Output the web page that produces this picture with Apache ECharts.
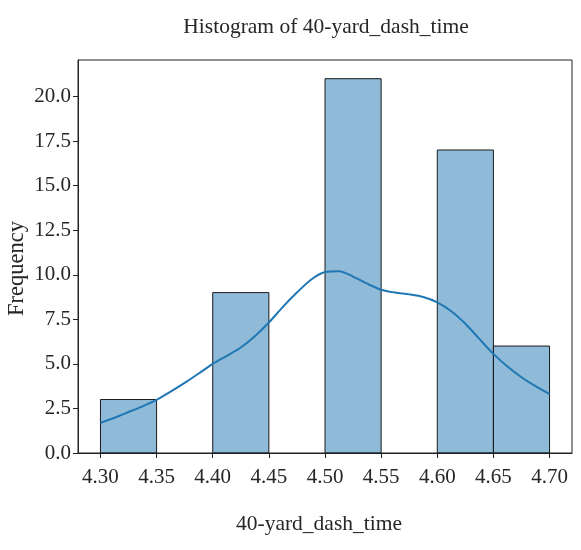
<!DOCTYPE html>
<html>
<head>
<meta charset="utf-8">
<script src="https://cdn.jsdelivr.net/npm/echarts@6/dist/echarts.min.js"></script>
<style>
  html, body { margin: 0; padding: 0; background: #ffffff; }
  #chart { width: 581px; height: 550px; }
</style>
</head>
<body>
<div id="chart"></div>
<script>
// Histogram bins (left edge, right edge) and counts
const binStart = [4.30, 4.35, 4.40, 4.45, 4.50, 4.55, 4.60, 4.65];
const binEnd   = [4.35, 4.40, 4.45, 4.50, 4.55, 4.60, 4.65, 4.70];
const binCount = [3, 0, 9, 0, 21, 0, 17, 6];

// Kernel density estimate, scaled to counts
const kdeX = [4.3000, 4.3125, 4.3250, 4.3375, 4.3500, 4.3625, 4.3750, 4.3875,
              4.4000, 4.4125, 4.4250, 4.4375, 4.4500, 4.4625, 4.4750, 4.4875,
              4.5000, 4.5125, 4.5250, 4.5375, 4.5500, 4.5625, 4.5750, 4.5875,
              4.6000, 4.6125, 4.6250, 4.6375, 4.6500, 4.6625, 4.6750, 4.6875, 4.7000];
const kdeY = [1.70, 1.98, 2.30, 2.62, 2.98, 3.44, 3.93, 4.46,
              5.00, 5.45, 5.92, 6.55, 7.32, 8.20, 9.00, 9.72,
              10.15, 10.20, 9.90, 9.50, 9.16, 9.00, 8.90, 8.75,
              8.45, 7.95, 7.25, 6.40, 5.56, 4.85, 4.25, 3.75, 3.31];

// Tick positions
const xTicks = [4.30, 4.35, 4.40, 4.45, 4.50, 4.55, 4.60, 4.65, 4.70];
const yTicks = [0, 2.5, 5, 7.5, 10, 12.5, 15, 17.5, 20];

const FONT = '"Liberation Serif", "Times New Roman", serif';
const TXT = '#262626';

const chart = echarts.init(document.getElementById('chart'), null, { renderer: 'canvas' });

const histData = binStart.map((s, i) => [s, binEnd[i], binCount[i]]);
const kdeData = kdeX.map((x, i) => [x, kdeY[i]]);

chart.setOption({
  animation: false,
  backgroundColor: '#ffffff',
  title: {
    text: 'Histogram of 40-yard_dash_time',
    left: 321, top: 11, textAlign: 'center',
    textStyle: { fontFamily: FONT, fontSize: 21.5, fontWeight: 'normal', color: TXT }
  },
  grid: {
    left: 78, right: 9, top: 60, bottom: 97,
    outerBoundsMode: 'none', containLabel: false,
    show: true, borderColor: '#222', borderWidth: 1, backgroundColor: 'transparent'
  },
  xAxis: {
    type: 'value', min: 4.28, max: 4.72,
    name: '40-yard_dash_time', nameLocation: 'middle', nameGap: 60, nameMoveOverlap: false,
    nameTextStyle: { fontFamily: FONT, fontSize: 21.5, color: TXT, padding: [0, 12, 0, 0] },
    splitLine: { show: false },
    axisLine: { show: true, onZero: false, lineStyle: { color: '#222', width: 1 } },
    axisTick: { show: true, length: 5, lineStyle: { color: '#222' }, customValues: xTicks },
    axisLabel: { fontFamily: FONT, fontSize: 21, color: TXT, margin: 14,
                 customValues: xTicks, formatter: v => v.toFixed(2) }
  },
  yAxis: {
    type: 'value', min: 0, max: 22.05,
    name: 'Frequency', nameLocation: 'middle', nameGap: 49, nameRotate: 90, nameMoveOverlap: false,
    nameTextStyle: { fontFamily: FONT, fontSize: 22.5, color: TXT, padding: [0, 24, 0, 0] },
    splitLine: { show: false },
    axisLine: { show: true, lineStyle: { color: '#222', width: 1 } },
    axisTick: { show: true, length: 5, lineStyle: { color: '#222' }, customValues: yTicks },
    axisLabel: { fontFamily: FONT, fontSize: 21, color: TXT, margin: 7,
                 customValues: yTicks, formatter: v => v.toFixed(1) }
  },
  series: [
    {
      type: 'custom',
      data: histData,
      encode: { x: [0, 1], y: 2 },
      renderItem: function (params, api) {
        const count = api.value(2);
        if (!count) return null;
        const p0 = api.coord([api.value(0), 0]);
        const p1 = api.coord([api.value(1), count]);
        return {
          type: 'rect',
          shape: { x: p0[0], y: p1[1], width: p1[0] - p0[0], height: p0[1] - p1[1] },
          style: { fill: 'rgba(31,119,180,0.5)', stroke: '#1a1a1a', lineWidth: 1 }
        };
      },
      z: 2
    },
    {
      type: 'line',
      data: kdeData,
      smooth: 0.3,
      showSymbol: false,
      lineStyle: { color: '#1f77b4', width: 2 },
      z: 3
    }
  ]
});
</script>
</body>
</html>
